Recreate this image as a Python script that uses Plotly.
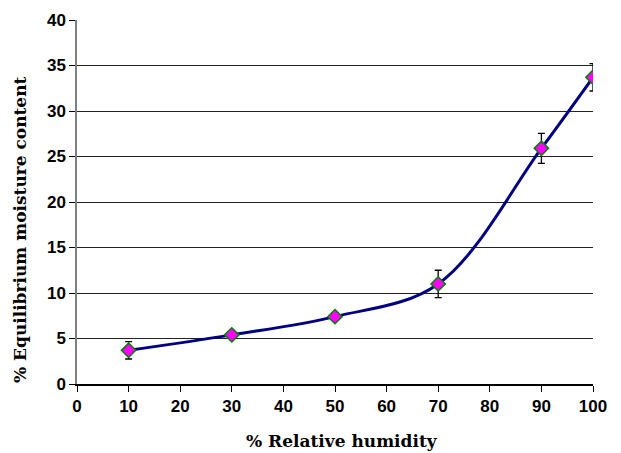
import plotly.graph_objects as go

humidity = [10, 30, 50, 70, 90, 100]
moisture = [3.7, 5.4, 7.4, 11.0, 25.9, 33.7]
errors = [0.95, 0.3, 0.4, 1.5, 1.65, 1.5]
x_ticks = [0, 10, 20, 30, 40, 50, 60, 70, 80, 90, 100]
y_ticks = [0, 5, 10, 15, 20, 25, 30, 35, 40]
x_title = "% Relative humidity"
y_title = "% Equilibrium moisture content"

fig = go.Figure()
fig.add_trace(go.Scatter(
    x=humidity, y=moisture, mode="lines",
    line=dict(color="#000080", width=3, shape="spline", smoothing=1.0),
    hoverinfo="skip", showlegend=False))
fig.add_trace(go.Scatter(
    x=humidity, y=moisture, mode="markers",
    marker=dict(symbol="diamond", size=11, color="#FF00FF",
                line=dict(color="#008000", width=1.5)),
    error_y=dict(type="data", array=errors, visible=True, color="black",
                 thickness=1.3, width=3.5),
    showlegend=False))

tickfont = dict(family="Liberation Sans, Arial, sans-serif", size=17, color="black", weight="bold")
xtitlefont = dict(family="DejaVu Serif, serif", size=17, color="black", weight="bold")
ytitlefont = dict(family="DejaVu Serif, serif", size=17, color="black", weight="bold")

fig.update_layout(
    width=613, height=445,
    margin=dict(l=69, r=28, t=12, b=69, autoexpand=False),
    paper_bgcolor="white", plot_bgcolor="white",
    xaxis=dict(range=[0, 100], tickvals=x_ticks, automargin=False,
               tickfont=tickfont, showgrid=False, showline=True, linecolor="black",
               linewidth=1.5, ticks="outside", ticklen=6, tickcolor="black",
               zeroline=False),
    yaxis=dict(range=[0, 40], tickvals=y_ticks, automargin=False,
               tickfont=tickfont, showgrid=True, gridcolor="#222222", gridwidth=1,
               showline=True, linecolor="#808080", linewidth=1.5,
               ticks="outside", ticklen=6, tickcolor="black", zeroline=False),
    annotations=[
        dict(text=x_title, xref="paper", yref="paper", x=0.514, y=0,
             xanchor="center", yanchor="middle", yshift=-57, showarrow=False,
             font=xtitlefont),
        dict(text=y_title, xref="paper", yref="paper", x=0, y=0.423,
             xanchor="center", yanchor="middle", xshift=-57, textangle=-90,
             showarrow=False, font=ytitlefont),
    ],
)
fig.write_html("out.html")
